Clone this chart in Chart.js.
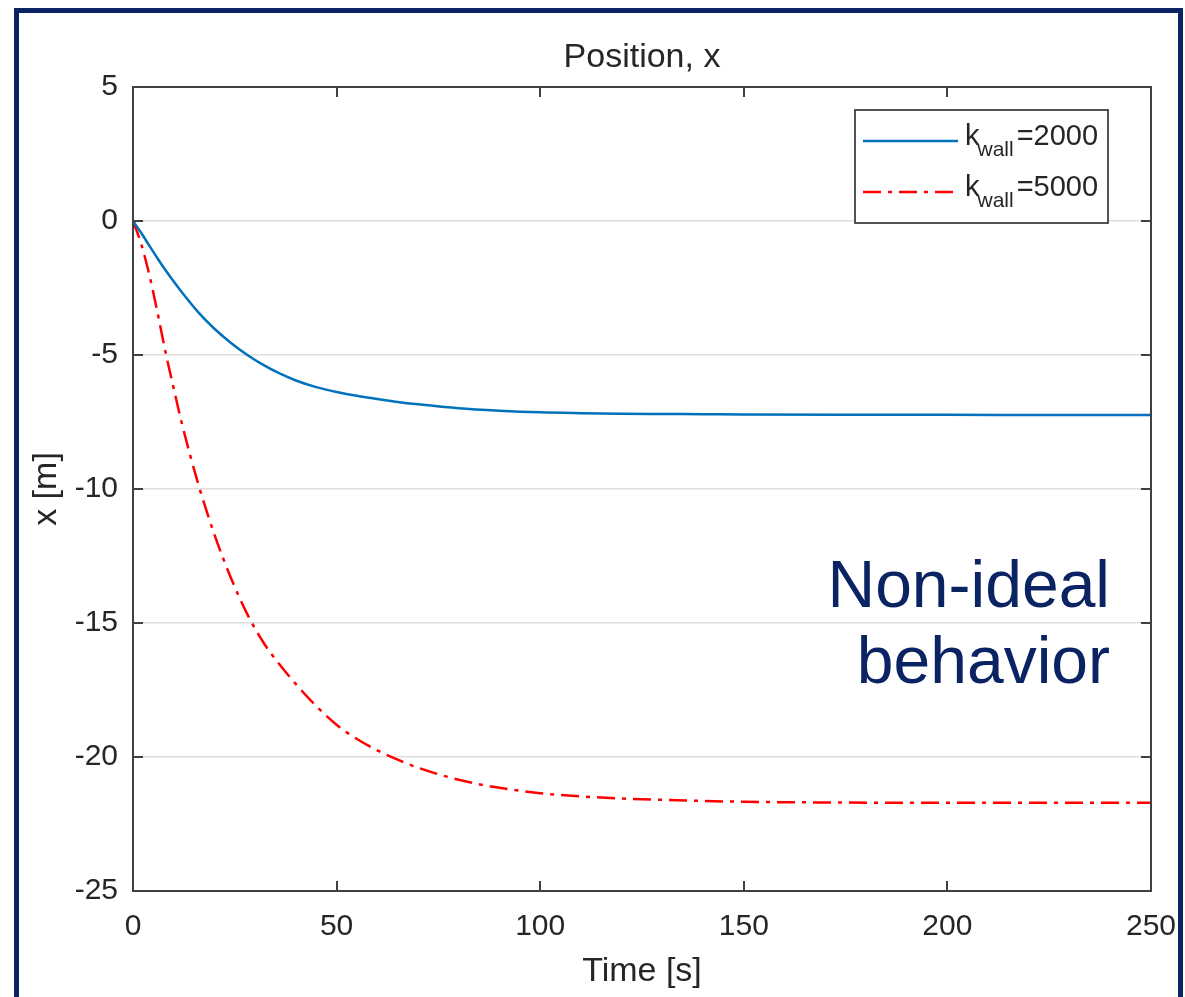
<!DOCTYPE html>
<html><head><meta charset="utf-8">
<script src="https://cdn.jsdelivr.net/npm/chart.js@4.4.1/dist/chart.umd.min.js"></script>
<style>
html,body{margin:0;padding:0;background:#fff;}
#wrap{position:relative;width:1185px;height:997px;overflow:hidden;background:#fff;}
#frame{position:absolute;left:14px;top:8px;width:1169px;height:1010px;border-left:5px solid #0a2463;border-top:5px solid #0a2463;border-right:5px solid #0a2463;box-sizing:border-box;}
#c{position:absolute;left:0;top:0;}
#note{position:absolute;right:75px;top:546px;font-family:'Liberation Sans',Arial,Helvetica,sans-serif;font-size:66px;line-height:76px;color:#0a2463;text-align:right;}
</style></head>
<body>
<div id="wrap">
<canvas id="c" width="1185" height="997"></canvas>
<div id="frame"></div>
<div id="note">Non-ideal<br>behavior</div>
</div>
<script>
// Time samples [s]
const times = [0,2,4,6,8,10,12,16,20,24,28,32,36,40,45,50,55,60,65,70,80,90,100,110,120,130,140,150,175,200,225,250];
// x [m] for k_wall = 2000
const kwall2000 = [0,-0.44,-0.92,-1.39,-1.84,-2.26,-2.66,-3.4,-4.02,-4.54,-4.99,-5.37,-5.69,-5.95,-6.2,-6.38,-6.52,-6.64,-6.75,-6.84,-6.99,-7.08,-7.14,-7.17,-7.19,-7.2,-7.21,-7.22,-7.23,-7.23,-7.24,-7.24];
// x [m] for k_wall = 5000
const kwall5000 = [0,-0.85,-2.0,-3.4,-4.9,-6.25,-7.55,-9.8,-11.7,-13.3,-14.65,-15.72,-16.55,-17.28,-18.1,-18.8,-19.33,-19.75,-20.1,-20.4,-20.85,-21.15,-21.35,-21.47,-21.55,-21.6,-21.64,-21.67,-21.7,-21.71,-21.71,-21.71];
const xTicks = [0,50,100,150,200,250];
const yTicks = [5,0,-5,-10,-15,-20,-25];
const legendValues = ['2000','5000'];

const FONT = "'Liberation Sans', Arial, Helvetica, sans-serif";
const TXT = '#262626';
const AX = '#404040';
const BLUE = '#0072BD';
const RED = '#FF0000';
const RED_DASH = [18,7,4,7];

const pts = arr => times.map((t,i)=>({x:t,y:arr[i]}));

const boxPlugin = {
  id:'box',
  afterDraw(chart){
    const {ctx, chartArea:a, scales} = chart;
    ctx.save();
    ctx.strokeStyle = AX; ctx.lineWidth = 2;
    ctx.strokeRect(a.left, a.top, a.right-a.left, a.bottom-a.top);
    ctx.beginPath();
    xTicks.forEach(v=>{
      const p = Math.round(scales.x.getPixelForValue(v));
      ctx.moveTo(p, a.bottom); ctx.lineTo(p, a.bottom-10);
      ctx.moveTo(p, a.top); ctx.lineTo(p, a.top+10);
    });
    yTicks.forEach(v=>{
      const p = Math.round(scales.y.getPixelForValue(v));
      ctx.moveTo(a.left, p); ctx.lineTo(a.left+10, p);
      ctx.moveTo(a.right, p); ctx.lineTo(a.right-10, p);
    });
    ctx.stroke();

    // legend
    const L = a.right-296, T = a.top+23, R = a.right-43, B = a.top+136;
    ctx.fillStyle = '#fff';
    ctx.fillRect(L, T, R-L, B-T);
    ctx.strokeStyle = AX; ctx.lineWidth = 1.8;
    ctx.strokeRect(L, T, R-L, B-T);
    const rows = [
      {y:T+31, color:BLUE, dash:[], val:legendValues[0]},
      {y:T+82, color:RED, dash:RED_DASH, val:legendValues[1]}
    ];
    rows.forEach(r=>{
      ctx.beginPath();
      ctx.setLineDash(r.dash);
      ctx.strokeStyle = r.color; ctx.lineWidth = 2.4;
      ctx.moveTo(L+8, r.y); ctx.lineTo(L+103, r.y);
      ctx.stroke();
      ctx.setLineDash([]);
      ctx.fillStyle = TXT;
      ctx.textBaseline = 'alphabetic'; ctx.textAlign = 'left';
      let x = L+110;
      const base = r.y+4;
      ctx.font = '29px ' + FONT;
      ctx.fillText('k', x, base);
      x += ctx.measureText('k').width - 2;
      ctx.font = '21px ' + FONT;
      ctx.fillText('wall', x, base+11);
      x += ctx.measureText('wall').width + 3;
      ctx.font = '29px ' + FONT;
      ctx.fillText('=' + r.val, x, base);
    });
    ctx.restore();
  }
};

new Chart(document.getElementById('c').getContext('2d'), {
  type:'line',
  data:{datasets:[
    {label:'kwall=2000', data:pts(kwall2000), borderColor:BLUE, borderWidth:2.5, pointRadius:0, cubicInterpolationMode:'monotone', fill:false},
    {label:'kwall=5000', data:pts(kwall5000), borderColor:RED, borderWidth:2.5, borderDash:RED_DASH, pointRadius:0, cubicInterpolationMode:'monotone', fill:false}
  ]},
  options:{
    responsive:false, animation:false, devicePixelRatio:1,
    layout:{padding:{left:20,right:34,top:0,bottom:0}},
    plugins:{
      legend:{display:false}, tooltip:{enabled:false},
      title:{display:true, fullSize:false, text:'Position, x', color:TXT, font:{family:FONT,size:34,weight:'normal'}, padding:{top:37,bottom:9.2}}
    },
    scales:{
      x:{type:'linear', min:0, max:250,
        afterBuildTicks:s=>{s.ticks = xTicks.map(v=>({value:v}));},
        grid:{display:true, color:'rgba(0,0,0,0)', drawTicks:true, tickLength:18, tickColor:'rgba(0,0,0,0)'}, border:{display:false},
        ticks:{color:TXT, font:{family:FONT,size:30}, padding:0, maxRotation:0, autoSkip:false},
        title:{display:true, text:'Time [s]', color:TXT, font:{family:FONT,size:34}, padding:{top:0,bottom:5}},
        afterFit:s=>{s.height=106;}
      },
      y:{type:'linear', min:-25, max:5,
        afterBuildTicks:s=>{s.ticks = yTicks.map(v=>({value:v}));},
        grid:{color:'#dedede', lineWidth:1.5, drawTicks:false}, border:{display:false},
        ticks:{color:TXT, font:{family:FONT,size:30}, padding:15, autoSkip:false},
        title:{display:true, text:'x [m]', color:TXT, font:{family:FONT,size:34}, padding:{top:6,bottom:0}},
        afterFit:s=>{s.width=113;}
      }
    }
  },
  plugins:[boxPlugin]
});
</script>
</body></html>
